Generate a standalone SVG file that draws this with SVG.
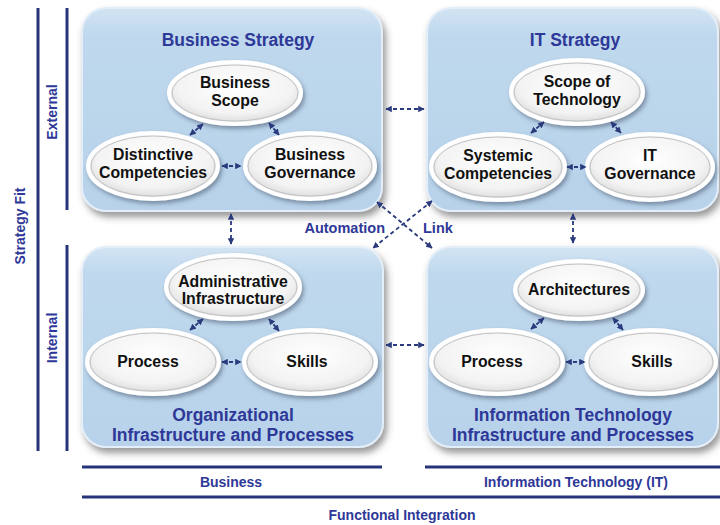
<svg xmlns="http://www.w3.org/2000/svg" width="720" height="525" viewBox="0 0 720 525">
  <defs>
    <style>
      .box { fill: url(#boxFill); stroke: #e4eef8; stroke-width: 2; filter: url(#boxShadow); }
      .title { font-family: "Liberation Sans", Arial, sans-serif; font-weight: bold; font-size: 17.5px; fill: #2e3898; text-anchor: middle; }
      .oval { fill: url(#ovalFill); stroke: #ffffff; stroke-width: 4; filter: url(#ovalShadow); }
      .ovalRim { fill: none; stroke: #c2c2c2; stroke-width: 1; }
      .otext { font-family: "Liberation Sans", Arial, sans-serif; font-weight: bold; font-size: 15.8px; fill: #111; text-anchor: middle; }
      .link { fill: none; stroke: #2a3a7c; stroke-width: 1.8; stroke-dasharray: 4 3; marker-start: url(#head); marker-end: url(#head); }
      .axis { stroke: #283479; stroke-width: 3; fill: none; }
      .alabel { font-family: "Liberation Sans", Arial, sans-serif; font-weight: bold; font-size: 14px; fill: #2e3898; text-anchor: middle; }
      .clabel { font-family: "Liberation Sans", Arial, sans-serif; font-weight: bold; font-size: 14.5px; fill: #2e3898; }
    </style>
    <linearGradient id="boxFill" x1="0" y1="0" x2="0" y2="1">
      <stop offset="0" stop-color="#d2e4f3"/>
      <stop offset="0.14" stop-color="#bfd8ed"/>
      <stop offset="1" stop-color="#b7d2ea"/>
    </linearGradient>
    <radialGradient id="ovalFill" cx="0.5" cy="0.4" r="0.62">
      <stop offset="0" stop-color="#ffffff"/>
      <stop offset="0.7" stop-color="#f3f3f3"/>
      <stop offset="1" stop-color="#d6d6d6"/>
    </radialGradient>
    <filter id="boxShadow" x="-10%" y="-10%" width="125%" height="130%">
      <feDropShadow dx="3" dy="5" stdDeviation="3.5" flood-color="#444" flood-opacity="0.55"/>
    </filter>
    <filter id="ovalShadow" x="-15%" y="-20%" width="135%" height="150%">
      <feDropShadow dx="2" dy="3" stdDeviation="2" flood-color="#3a4a60" flood-opacity="0.5"/>
    </filter>
    <marker id="head" viewBox="0 0 10 10" refX="9" refY="5" markerWidth="3.6" markerHeight="3.6" orient="auto-start-reverse" markerUnits="strokeWidth">
      <path d="M0,0 L10,5 L0,10 z" fill="#2a3a7c"/>
    </marker>
  </defs>

  <rect width="720" height="525" fill="#ffffff"/>

  <!-- Axes: strategy fit (vertical) and functional integration (horizontal) -->
  <g id="axes">
    <line class="axis" x1="38" y1="8" x2="38" y2="451"/>
    <line class="axis" x1="67" y1="8" x2="67" y2="210"/>
    <line class="axis" x1="67" y1="245" x2="67" y2="451"/>
    <line class="axis" x1="82" y1="467" x2="382" y2="467"/>
    <line class="axis" x1="425" y1="467" x2="720" y2="467"/>
    <line class="axis" x1="82" y1="497" x2="720" y2="497"/>
    <text class="alabel" transform="translate(25,226) rotate(-90)">Strategy Fit</text>
    <text class="alabel" transform="translate(57,112) rotate(-90)">External</text>
    <text class="alabel" transform="translate(57,338) rotate(-90)">Internal</text>
    <text class="alabel" x="231" y="487">Business</text>
    <text class="alabel" x="576" y="487">Information Technology (IT)</text>
    <text class="alabel" x="402" y="520">Functional Integration</text>
  </g>

  <!-- Business Strategy -->
  <g id="business-strategy">
    <rect class="box" x="82" y="8" width="300" height="203" rx="24"/>
    <text class="title" x="238" y="46">Business Strategy</text>
    <g id="business-scope">
      <ellipse class="oval" cx="235" cy="93" rx="66" ry="31"/>
      <ellipse class="ovalRim" cx="235" cy="93" rx="63" ry="28"/>
      <text class="otext" x="235" y="88">Business</text>
      <text class="otext" x="235" y="106">Scope</text>
    </g>
    <g id="distinctive-competencies">
      <ellipse class="oval" cx="153" cy="166" rx="65" ry="33"/>
      <ellipse class="ovalRim" cx="153" cy="166" rx="62" ry="30"/>
      <text class="otext" x="153" y="160">Distinctive</text>
      <text class="otext" x="153" y="178">Competencies</text>
    </g>
    <g id="business-governance">
      <ellipse class="oval" cx="310" cy="166" rx="65" ry="33"/>
      <ellipse class="ovalRim" cx="310" cy="166" rx="62" ry="30"/>
      <text class="otext" x="310" y="160">Business</text>
      <text class="otext" x="310" y="178">Governance</text>
    </g>
  </g>

  <!-- IT Strategy -->
  <g id="it-strategy">
    <rect class="box" x="427" y="8" width="291" height="203" rx="24"/>
    <text class="title" x="575" y="46">IT Strategy</text>
    <g id="scope-of-technology">
      <ellipse class="oval" cx="577" cy="92" rx="66" ry="32"/>
      <ellipse class="ovalRim" cx="577" cy="92" rx="63" ry="29"/>
      <text class="otext" x="577" y="87">Scope of</text>
      <text class="otext" x="577" y="105">Technology</text>
    </g>
    <g id="systemic-competencies">
      <ellipse class="oval" cx="498" cy="167" rx="67" ry="33"/>
      <ellipse class="ovalRim" cx="498" cy="167" rx="64" ry="30"/>
      <text class="otext" x="498" y="161">Systemic</text>
      <text class="otext" x="498" y="179">Competencies</text>
    </g>
    <g id="it-governance">
      <ellipse class="oval" cx="650" cy="167" rx="63" ry="33"/>
      <ellipse class="ovalRim" cx="650" cy="167" rx="60" ry="30"/>
      <text class="otext" x="650" y="161">IT</text>
      <text class="otext" x="650" y="179">Governance</text>
    </g>
  </g>

  <!-- Organizational Infrastructure and Processes -->
  <g id="org-infrastructure">
    <rect class="box" x="82" y="247" width="301" height="200" rx="24"/>
    <text class="title" x="233" y="421">Organizational</text>
    <text class="title" x="233" y="441">Infrastructure and Processes</text>
    <g id="administrative-infrastructure">
      <ellipse class="oval" cx="233" cy="287" rx="67" ry="32"/>
      <ellipse class="ovalRim" cx="233" cy="287" rx="64" ry="29"/>
      <text class="otext" x="233" y="287">Administrative</text>
      <text class="otext" x="233" y="304">Infrastructure</text>
    </g>
    <g id="org-process">
      <ellipse class="oval" cx="153" cy="362" rx="66" ry="32"/>
      <ellipse class="ovalRim" cx="153" cy="362" rx="63" ry="29"/>
      <text class="otext" x="148" y="367">Process</text>
    </g>
    <g id="org-skills">
      <ellipse class="oval" cx="310" cy="362" rx="66" ry="32"/>
      <ellipse class="ovalRim" cx="310" cy="362" rx="63" ry="29"/>
      <text class="otext" x="307" y="367">Skills</text>
    </g>
  </g>

  <!-- Information Technology Infrastructure and Processes -->
  <g id="it-infrastructure">
    <rect class="box" x="427" y="247" width="291" height="200" rx="24"/>
    <text class="title" x="573" y="421">Information Technology</text>
    <text class="title" x="573" y="441">Infrastructure and Processes</text>
    <g id="architectures">
      <ellipse class="oval" cx="579" cy="290" rx="64" ry="29"/>
      <ellipse class="ovalRim" cx="579" cy="290" rx="61" ry="26"/>
      <text class="otext" x="579" y="295">Architectures</text>
    </g>
    <g id="it-process">
      <ellipse class="oval" cx="497" cy="362" rx="66" ry="32"/>
      <ellipse class="ovalRim" cx="497" cy="362" rx="63" ry="29"/>
      <text class="otext" x="492" y="367">Process</text>
    </g>
    <g id="it-skills">
      <ellipse class="oval" cx="651" cy="362" rx="65" ry="32"/>
      <ellipse class="ovalRim" cx="651" cy="362" rx="62" ry="29"/>
      <text class="otext" x="652" y="367">Skills</text>
    </g>
  </g>

  <!-- Connectors -->
  <g id="connectors">
    <!-- inside Business Strategy -->
    <line class="link" x1="190" y1="135" x2="203" y2="124"/>
    <line class="link" x1="269" y1="123" x2="279" y2="135"/>
    <line class="link" x1="222" y1="166" x2="241" y2="166"/>
    <!-- inside IT Strategy -->
    <line class="link" x1="531" y1="133" x2="544" y2="122"/>
    <line class="link" x1="611" y1="122" x2="621" y2="133"/>
    <line class="link" x1="567" y1="167" x2="586" y2="167"/>
    <!-- inside Organizational Infrastructure -->
    <line class="link" x1="190" y1="330" x2="203" y2="319"/>
    <line class="link" x1="269" y1="319" x2="279" y2="331"/>
    <line class="link" x1="222" y1="362" x2="241" y2="362"/>
    <!-- inside IT Infrastructure -->
    <line class="link" x1="531" y1="329" x2="544" y2="318"/>
    <line class="link" x1="613" y1="318" x2="623" y2="330"/>
    <line class="link" x1="566" y1="362" x2="585" y2="362"/>
    <!-- between quadrants -->
    <line class="link" x1="386" y1="109" x2="424" y2="109"/>
    <line class="link" x1="386" y1="345" x2="424" y2="345"/>
    <line class="link" x1="231" y1="214" x2="231" y2="244"/>
    <line class="link" x1="573" y1="214" x2="573" y2="243"/>
    <line class="link" x1="377" y1="202" x2="432" y2="248"/>
    <line class="link" x1="432" y1="201" x2="373" y2="248"/>
    <text class="clabel" x="385" y="233" text-anchor="end">Automation</text>
    <text class="clabel" x="423" y="233">Link</text>
  </g>
</svg>
